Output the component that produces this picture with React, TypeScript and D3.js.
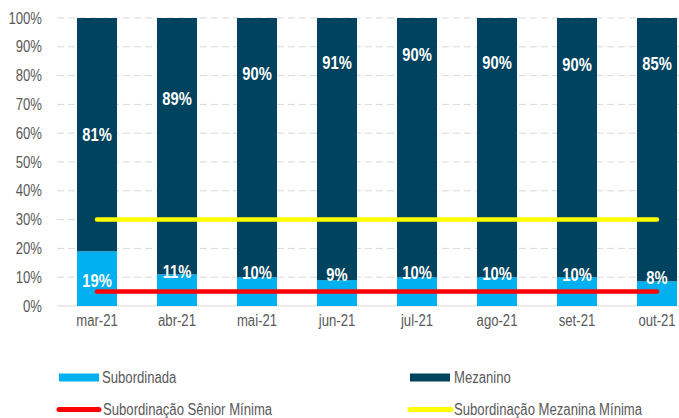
import React from "react";
import * as d3 from "d3";

const categories = ["mar-21", "abr-21", "mai-21", "jun-21", "jul-21", "ago-21", "set-21", "out-21"];
const subordinada = [19, 11, 10, 9, 10, 10, 10, 8];
const mezanino = [81, 89, 90, 91, 90, 90, 90, 85];
const seniorMinima = [5, 5, 5, 5, 5, 5, 5, 5];
const mezaninaMinima = [30, 30, 30, 30, 30, 30, 30, 30];
// label anchor levels (in % of axis)
const subLabelAt = [9.0, 12.0, 11.5, 11.0, 11.5, 11.2, 10.8, 9.9];
const mezLabelAt = [59.4, 71.9, 80.9, 84.6, 87.4, 84.7, 83.8, 84.1];
const yTicks = [0, 10, 20, 30, 40, 50, 60, 70, 80, 90, 100];

const W = 679;
const H = 418;
const FONT = "'Liberation Sans', Arial, sans-serif";
const NARROW = 0.82;
const C_SUB = "#00B0F0";
const C_MEZ = "#00435E";
const C_RED = "#FF0000";
const C_YEL = "#FFFF00";
const C_TEXT = "#595959";
const C_GRID = "#D9D9D9";

function NText(props: {
  x: number;
  y: number;
  anchor?: string;
  size: number;
  fill: string;
  bold?: boolean;
  dy?: string;
  children: React.ReactNode;
}) {
  return (
    <g transform={`translate(${props.x},${props.y}) scale(${NARROW},1)`}>
      <text
        x={0}
        y={0}
        dy={props.dy}
        textAnchor={props.anchor || "start"}
        fontFamily={FONT}
        fontSize={props.size}
        fontWeight={props.bold ? "bold" : "normal"}
        fill={props.fill}
      >
        {props.children}
      </text>
    </g>
  );
}

export default function App() {
  const x = d3.scaleBand<string>().domain(categories).range([57, 697]).paddingInner(0.5).paddingOuter(0.25);
  const y = d3.scaleLinear().domain([0, 1]).range([306, 18]);

  const rows = categories.map((c, i) => ({ cat: c, sub: subordinada[i], mez: mezanino[i] }));
  const stack = d3.stack<any>().keys(["sub", "mez"]).offset(d3.stackOffsetExpand);
  const series = stack(rows);
  const colors: Record<string, string> = { sub: C_SUB, mez: C_MEZ };
  const labelAt: Record<string, number[]> = { sub: subLabelAt, mez: mezLabelAt };
  const vals: Record<string, number[]> = { sub: subordinada, mez: mezanino };

  const line = d3
    .line<number>()
    .x((_, i) => (x(categories[i]) as number) + x.bandwidth() / 2)
    .y((d) => y(d / 100));

  const bw = x.bandwidth();

  return (
    <svg width={W} height={H} style={{ position: "absolute", left: 0, top: 0, display: "block", background: "#fff" }}>
      {/* gridlines */}
      {yTicks.map((t) => (
        <line
          key={"g" + t}
          x1={57}
          x2={697}
          y1={y(t / 100)}
          y2={y(t / 100)}
          stroke={C_GRID}
          strokeWidth={1}
          strokeDasharray={t === 0 ? undefined : "7,4"}
        />
      ))}
      {/* y tick labels */}
      {yTicks.map((t) => (
        <NText key={"t" + t} x={42} y={y(t / 100)} dy="0.35em" anchor="end" size={16} fill={C_TEXT}>
          {t + "%"}
        </NText>
      ))}
      {/* bars */}
      {series.map((s) => (
        <g key={s.key} fill={colors[s.key]}>
          {s.map((d, i) => (
            <rect key={i} x={x(categories[i])} width={bw} y={y(d[1])} height={y(d[0]) - y(d[1])} />
          ))}
        </g>
      ))}
      {/* lines */}
      <path d={line(mezaninaMinima) || ""} fill="none" stroke={C_YEL} strokeWidth={4.5} strokeLinecap="round" />
      <path d={line(seniorMinima) || ""} fill="none" stroke={C_RED} strokeWidth={4.5} strokeLinecap="round" />
      {/* bar labels */}
      {series.map((s) =>
        s.map((d, i) => (
          <NText
            key={s.key + "l" + i}
            x={(x(categories[i]) as number) + bw / 2}
            y={y(labelAt[s.key][i] / 100)}
            dy="0.36em"
            anchor="middle"
            size={18}
            bold
            fill="#FFFFFF"
          >
            {vals[s.key][i] + "%"}
          </NText>
        ))
      )}
      {/* x labels */}
      {categories.map((c) => (
        <NText key={"x" + c} x={(x(c) as number) + bw / 2} y={326} anchor="middle" size={16} fill={C_TEXT}>
          {c}
        </NText>
      ))}
      {/* legend */}
      <rect x={59} y={373.5} width={40} height={8} fill={C_SUB} />
      <NText x={102} y={383} size={16} fill={C_TEXT}>Subordinada</NText>
      <rect x={410} y={373.5} width={40} height={8} fill={C_MEZ} />
      <NText x={454} y={383} size={16} fill={C_TEXT}>Mezanino</NText>
      <line x1={59} x2={99} y1={409.5} y2={409.5} stroke={C_RED} strokeWidth={5} strokeLinecap="round" />
      <NText x={103} y={415} size={16} fill={C_TEXT}>Subordinação Sênior Mínima</NText>
      <line x1={410} x2={451} y1={409.5} y2={409.5} stroke={C_YEL} strokeWidth={5} strokeLinecap="round" />
      <NText x={454} y={415} size={16} fill={C_TEXT}>Subordinação Mezanina Mínima</NText>
    </svg>
  );
}
